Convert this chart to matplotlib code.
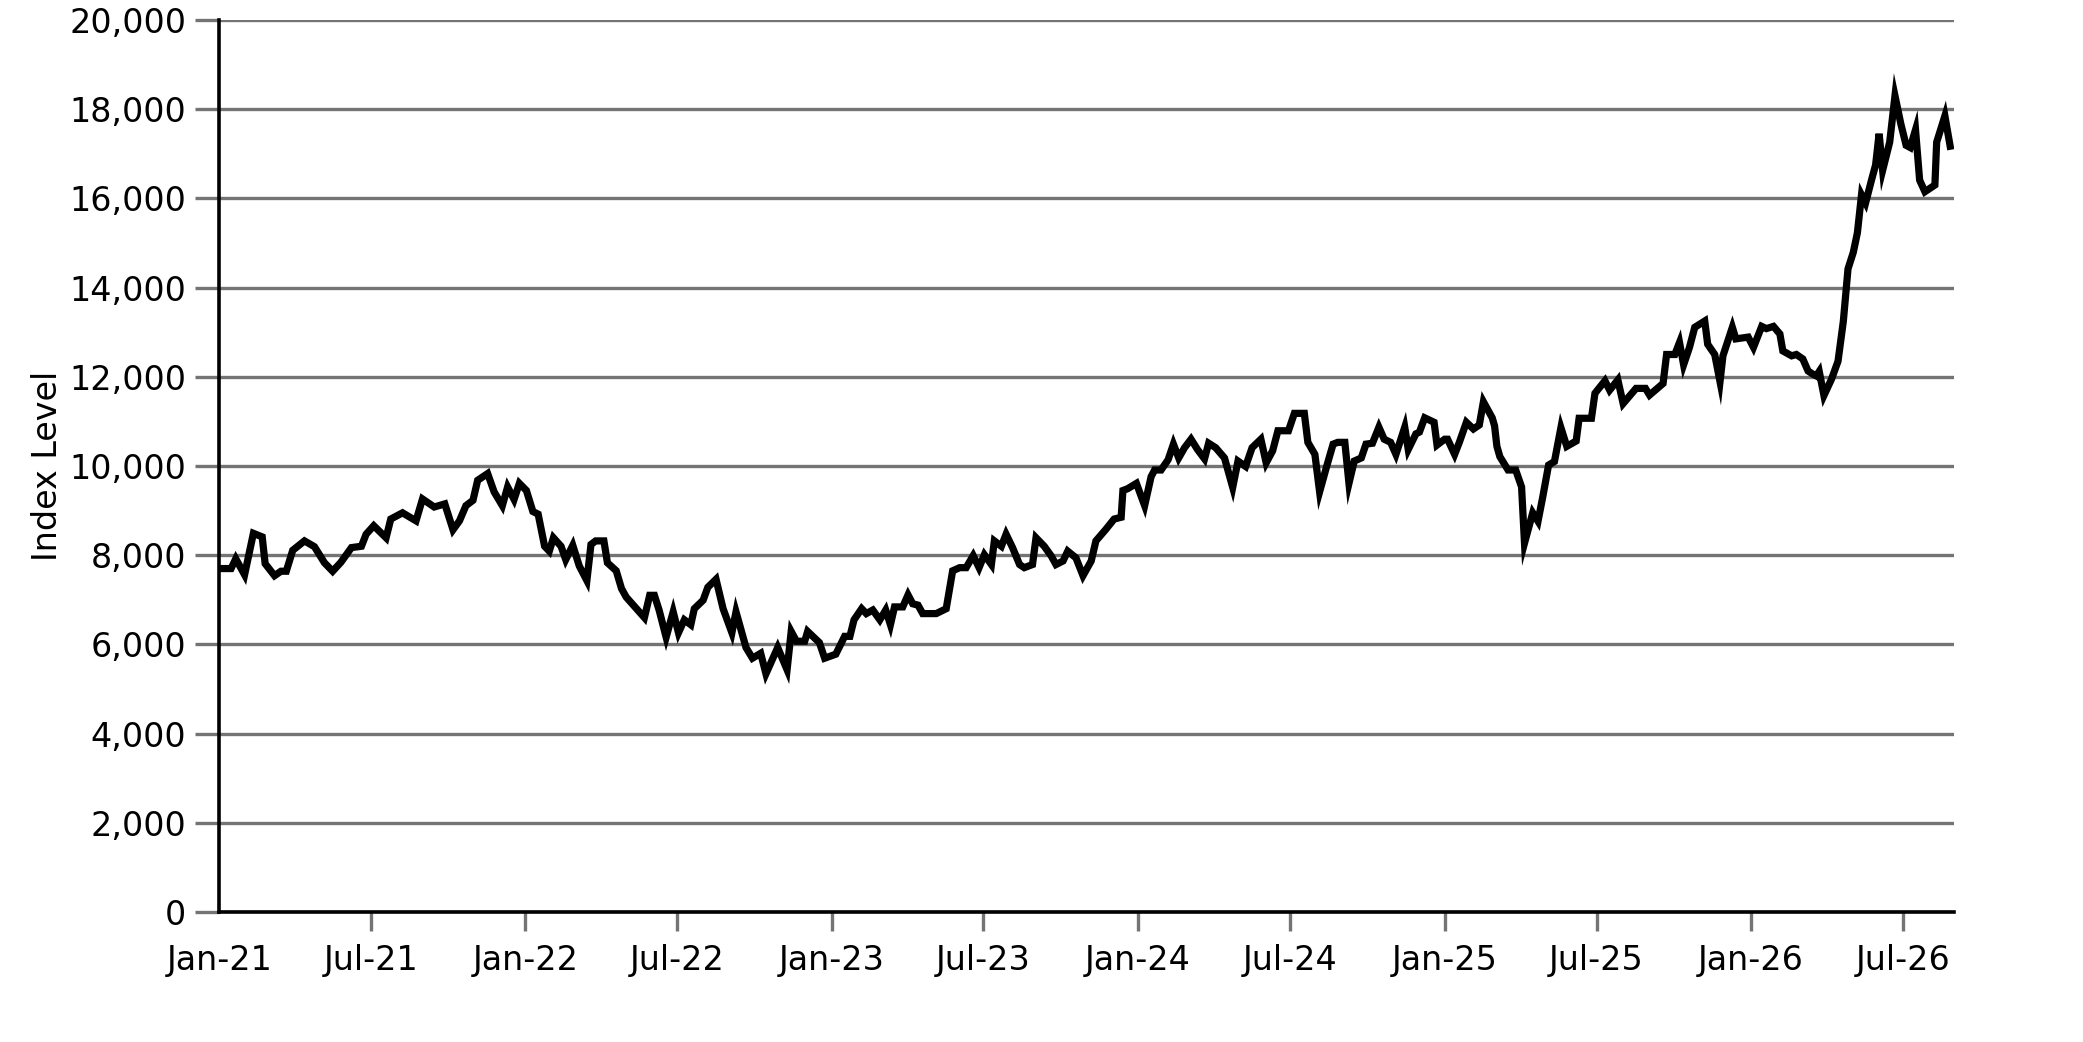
import numpy as np
import pandas as pd
import matplotlib
matplotlib.use("Agg")
import matplotlib.pyplot as plt
from matplotlib.ticker import FuncFormatter, FixedLocator

# ---- data: weeks since 2021-01-01 and index level ----
start_date = "2021-01-01"
weeks = [
    0.0, 2.0, 2.8, 4.3, 5.8, 7.3, 7.8, 9.4, 10.5, 11.4, 12.5, 14.5, 16.2, 17.9, 19.3,
    20.7, 22.5, 24.2, 25.0, 26.3, 28.4, 29.2, 31.2, 33.5, 34.6, 36.6, 38.4, 39.8, 40.9,
    42.0, 43.2, 44.0, 45.7, 46.8, 48.2, 49.1, 50.2, 51.1, 52.3, 53.4, 54.3,
    55.4, 56.2, 56.9, 58.2, 59.0, 60.2, 61.3, 62.6, 63.3, 64.1, 65.5, 66.1, 67.6, 68.5,
    69.3, 72.4, 73.3, 74.1, 74.9, 76.1, 77.3, 78.2, 79.2, 80.3, 80.9, 82.4, 83.2, 84.6,
    85.8, 87.3, 88.0, 89.7, 90.8, 92.2, 93.1, 95.1, 96.7, 97.4, 98.3, 99.7, 100.2, 102.2,
    103.1, 105.0, 106.5, 107.4, 108.1, 109.4, 110.2,
    111.3, 112.5, 113.5, 114.3, 115.0, 116.4, 117.3, 118.1, 119.0, 119.8, 122.1, 123.8,
    124.9, 126.1, 127.2, 128.4, 129.4, 130.3, 131.5, 132.0, 133.2, 134.0, 135.1, 136.3,
    137.1, 138.5, 139.1, 140.5, 141.7, 142.5, 143.7, 144.5, 145.9, 147.1, 148.5, 149.3,
    151.0, 152.4, 153.6, 153.9, 154.7, 156.2, 157.6, 158.7, 159.3, 160.4, 161.6,
    162.5, 163.4, 164.4, 165.5, 166.6, 167.8, 168.5, 169.7, 171.2, 172.6, 173.5, 174.8,
    175.9, 177.4, 178.3, 179.4, 180.3, 182.1, 183.1, 184.8, 185.4, 186.6, 187.4, 188.6,
    189.7, 190.5, 191.7, 192.4, 193.3, 194.5, 195.3, 196.4, 197.5, 198.4, 199.5, 200.4,
    201.9, 202.5, 203.8, 204.4, 205.3, 206.9, 207.4, 208.7, 209.2, 210.4, 211.2, 212.4,
    213.6, 214.6, 215.3, 216.8, 217.2, 217.6, 218.1, 219.5, 220.8, 221.8, 222.3, 223.7,
    224.6, 225.4, 226.4, 227.4, 228.5, 229.5, 231.1, 231.6, 233.7, 234.3, 236.0, 236.8,
    238.2, 239.1, 241.3, 242.9, 243.6, 245.9, 246.5, 247.9, 248.7, 249.4, 250.4, 251.3,
    253.0, 253.5, 254.7, 255.6, 256.1, 257.7, 258.3, 260.4, 261.3, 262.7, 263.5, 264.7,
    265.8, 266.3, 267.8, 268.6, 269.7, 270.6, 271.4, 272.0, 272.5, 273.3, 274.6, 275.7,
    276.6, 277.4, 278.3, 279.0, 279.7, 280.4, 281.4, 282.1, 282.7, 283.3, 284.5, 285.4,
    286.4, 287.3, 288.0, 288.9, 289.6, 290.5, 292.2, 292.5, 293.9, 294.8,
]
index_level = [
    7700, 7700, 7920, 7560, 8490, 8410, 7810, 7540, 7640, 7640, 8110, 8320, 8190, 7830, 7640,
    7840, 8170, 8200, 8470, 8660, 8390, 8810, 8950, 8770, 9260, 9080, 9150, 8570, 8770,
    9110, 9230, 9680, 9830, 9420, 9110, 9530, 9250, 9610, 9450, 8980, 8920,
    8200, 8090, 8390, 8200, 7900, 8220, 7760, 7430, 8240, 8320, 8320, 7830, 7650, 7250,
    7060, 6600, 7100, 7100, 6770, 6160, 6730, 6260, 6550, 6440, 6800, 6990, 7280, 7460,
    6800, 6260, 6730, 5930, 5690, 5800, 5340, 5930, 5430, 6290, 6070, 6070, 6290, 6040,
    5690, 5780, 6180, 6180, 6550, 6800, 6690,
    6770, 6550, 6770, 6440, 6840, 6840, 7110, 6910, 6880, 6690, 6690, 6800,
    7650, 7720, 7720, 7990, 7720, 8010, 7790, 8320, 8200, 8470, 8170, 7790,
    7720, 7790, 8390, 8200, 7980, 7790, 7870, 8090, 7940, 7540, 7870, 8320,
    8580, 8810, 8850, 9450, 9490, 9610, 9110, 9760, 9910, 9910, 10140,
    10490, 10180, 10410, 10600, 10370, 10160, 10510, 10410, 10180, 9520, 10110, 9990,
    10410, 10600, 10070, 10340, 10790, 10790, 11180, 11180, 10530, 10260, 9420, 9990,
    10490, 10530, 10530, 9610, 10110, 10180, 10490, 10510, 10870, 10600, 10530, 10260,
    10870, 10370, 10720, 10760, 11080, 10980, 10470, 10600, 10600, 10260, 10530, 10980,
    10830, 10920, 11440, 11080, 10900, 10440, 10210, 9910, 9910, 9530, 8270, 8950,
    8760, 9300, 10020, 10100, 10860, 10440, 10560, 11070, 11070, 11630, 11910, 11700,
    11930, 11400, 11740, 11740, 11590, 11850, 12500, 12500, 12770, 12270, 12660, 13110,
    13250, 12730, 12500, 11890, 12470, 13110, 12850, 12890, 12660, 13130, 13080, 13130,
    12960, 12580, 12470, 12500, 12400, 12130, 12060, 12020, 12120, 11580, 11950, 12350,
    13240, 14420, 14790, 15230, 16080, 15900, 16410, 16750, 17450, 16630, 17260, 18300,
    17670, 17190, 17140, 17540, 16410, 16150, 16300, 17260, 17850, 17170,
]

x_tick_dates = ["2021-01-01", "2021-07-01", "2022-01-01", "2022-07-01", "2023-01-01",
                "2023-07-01", "2024-01-01", "2024-07-01", "2025-01-01", "2025-07-01",
                "2026-01-01", "2026-07-01"]
x_tick_labels = ["Jan-21", "Jul-21", "Jan-22", "Jul-22", "Jan-23", "Jul-23", "Jan-24",
                 "Jul-24", "Jan-25", "Jul-25", "Jan-26", "Jul-26"]
y_ticks = [0, 2000, 4000, 6000, 8000, 10000, 12000, 14000, 16000, 18000, 20000]
y_label = "Index Level"

# ---- build ----
dates = pd.Timestamp(start_date) + pd.to_timedelta(np.array(weeks) * 7, unit="D")

plt.rcParams["font.family"] = ["DejaVu Sans"]
fig = plt.figure(figsize=(20.83, 10.42), dpi=100)
ax = fig.add_axes([0.1053, 0.1248, 0.938 - 0.1053, 0.9808 - 0.1248])

grid_col = "#747474"
ax.plot(dates, index_level, color="black", lw=5.2, zorder=3, solid_joinstyle="miter")

ax.set_ylim(0, 20000)
ax.set_xlim(pd.Timestamp("2021-01-01"), pd.Timestamp("2026-08-31"))

ax.yaxis.set_major_locator(FixedLocator(y_ticks))
ax.yaxis.set_major_formatter(FuncFormatter(lambda v, p: f"{v:,.0f}"))
ax.set_xticks(pd.to_datetime(x_tick_dates))
ax.set_xticklabels(x_tick_labels)

ax.grid(axis="y", color=grid_col, lw=2.4, zorder=1)
ax.set_axisbelow(True)

for s in ["top", "right"]:
    ax.spines[s].set_visible(False)
for s in ["left", "bottom"]:
    ax.spines[s].set_color("black")
    ax.spines[s].set_linewidth(2.6)
    ax.spines[s].set_zorder(4)

ax.tick_params(axis="y", direction="out", length=17, width=2.4, color=grid_col,
               labelsize=24, pad=7, labelcolor="black")
ax.tick_params(axis="x", direction="out", length=14, width=2.4, color=grid_col,
               labelsize=24, pad=9, labelcolor="black")
# the first x tick mark is not drawn in the reference
ax.xaxis.get_major_ticks()[0].tick1line.set_visible(False)

ax.set_ylabel(y_label, fontsize=24)
ax.yaxis.set_label_coords(-0.0895, 0.5)

fig.savefig("out.png", dpi=100, facecolor="white")
